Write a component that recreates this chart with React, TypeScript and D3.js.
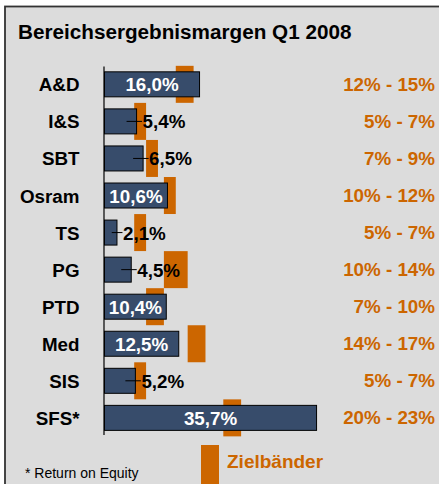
import React from "react";
import * as d3 from "d3";

const categories = ["A&D", "I&S", "SBT", "Osram", "TS", "PG", "PTD", "Med", "SIS", "SFS*"];
const values = [16.0, 5.4, 6.5, 10.6, 2.1, 4.5, 10.4, 12.5, 5.2, 35.7];
const bandLow = [12, 5, 7, 10, 5, 10, 7, 14, 5, 20];
const bandHigh = [15, 7, 9, 12, 7, 14, 10, 17, 7, 23];
const valueLabels = ["16,0%", "5,4%", "6,5%", "10,6%", "2,1%", "4,5%", "10,4%", "12,5%", "5,2%", "35,7%"];
const bandLabels = ["12% - 15%", "5% - 7%", "7% - 9%", "10% - 12%", "5% - 7%", "10% - 14%", "7% - 10%", "14% - 17%", "5% - 7%", "20% - 23%"];
const title = "Bereichsergebnismargen Q1 2008";
const legendLabel = "Zielbänder";
const footnote = "* Return on Equity";

const W = 439;
const H = 484;
const ORANGE = "#cc6600";
const BAR = "#374c6b";
const BG = "#dcdcdc";
const FONT = "'Liberation Sans', Arial, sans-serif";

export default function App() {
  const x = d3.scaleLinear().domain([0, 40]).range([104.5, 104.5 + 40 * 5.94]);
  const y = d3.scaleBand<string>().domain(categories).range([65.8, 436.4]).paddingInner(0).paddingOuter(0);
  const rowH = y.bandwidth();
  const barH = 25;
  const bandH = 37;

  return (
    <svg width={W} height={H} style={{ position: "absolute", left: 0, top: 0 }} fontFamily={FONT}>
      <rect x={0} y={0} width={W} height={H} fill="#ffffff" />
      <rect x={5} y={6.5} width={W + 10} height={H + 10} fill={BG} stroke="#333333" strokeWidth={1.8} />
      <text x={18} y={39} fontSize={20.7} fontWeight="bold" fill="#000">{title}</text>

      {/* target bands */}
      {categories.map((c, i) => {
        const cy = (y(c) as number) + rowH / 2;
        return (
          <rect key={"b" + c} x={x(bandLow[i])} y={cy - bandH / 2} width={x(bandHigh[i]) - x(bandLow[i])} height={bandH} fill={ORANGE} />
        );
      })}

      {/* bars */}
      {categories.map((c, i) => {
        const cy = (y(c) as number) + rowH / 2;
        return (
          <rect key={"r" + c} x={x(0)} y={cy - barH / 2} width={x(values[i]) - x(0)} height={barH} fill={BAR} stroke="#000" strokeWidth={1} />
        );
      })}

      {/* axis line */}
      <line x1={x(0) - 0.5} x2={x(0) - 0.5} y1={66.5} y2={435} stroke="#000" strokeWidth={1.2} />

      {/* category labels */}
      {categories.map((c) => {
        const cy = (y(c) as number) + rowH / 2;
        return (
          <text key={"c" + c} x={79.5} y={cy + 7} textAnchor="end" fontSize={18.8} fontWeight="bold" fill="#000">{c}</text>
        );
      })}

      {/* value labels */}
      {categories.map((c, i) => {
        const cy = (y(c) as number) + rowH / 2;
        const end = x(values[i]);
        if (values[i] >= 10) {
          return (
            <text key={"v" + c} x={(x(0) + end) / 2} y={cy + 7} textAnchor="middle" fontSize={18.8} fontWeight="bold" fill="#ffffff">{valueLabels[i]}</text>
          );
        }
        const start = Math.max(end - 10, (x(0) + end) / 2 + 1);
        return (
          <g key={"v" + c}>
            <line x1={start} x2={end + 5.5} y1={cy} y2={cy} stroke="#000" strokeWidth={1} />
            <text x={end + 6} y={cy + 7} fontSize={18.8} fontWeight="bold" fill="#000">{valueLabels[i]}</text>
          </g>
        );
      })}

      {/* band labels */}
      {categories.map((c, i) => {
        const cy = (y(c) as number) + rowH / 2;
        return (
          <text key={"t" + c} x={435} y={cy + 6.5} textAnchor="end" fontSize={18.8} fontWeight="bold" fill={ORANGE}>{bandLabels[i]}</text>
        );
      })}

      {/* legend */}
      <rect x={201} y={445} width={18} height={45} fill={ORANGE} />
      <text x={227} y={468} fontSize={19} fontWeight="bold" fill={ORANGE}>{legendLabel}</text>
      <text x={25} y={478} fontSize={14} fill="#000">{footnote}</text>
    </svg>
  );
}
